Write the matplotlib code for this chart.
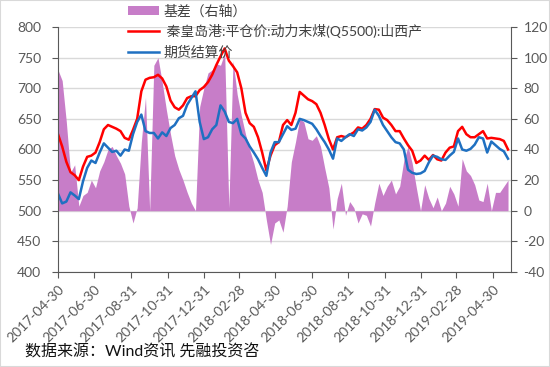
import pandas as pd
import matplotlib
matplotlib.use('Agg')
import matplotlib.pyplot as plt
from matplotlib.patches import Rectangle

plt.rcParams['font.family'] = ['Lato', 'Noto Sans CJK SC', 'DejaVu Sans']
plt.rcParams['axes.unicode_minus'] = False

# weekly samples
dates = pd.date_range('2017-04-30', periods=109, freq='W')

spot = [625, 605, 580, 563, 558, 550, 572, 588, 590, 595, 612, 633, 640, 637, 634, 630, 619, 616, 632,
        650, 695, 714, 717, 718, 722, 716, 703, 680, 669, 665, 672, 684, 687, 687, 697, 702, 710, 722,
        738, 752, 765, 745, 736, 726, 700, 660, 643, 637, 620, 595, 566, 590, 607, 612, 640,
        648, 640, 660, 694, 688, 682, 679, 674, 660, 640, 617, 600, 620, 622, 620, 624, 628, 636, 634,
        640, 650, 666, 665, 652, 648, 640, 630, 630, 618, 607, 598, 578, 582, 590, 583, 591,
        584, 582, 595, 603, 605, 630, 637, 625, 620, 620, 625, 630, 618, 619, 618, 617, 614, 600]

futures = [528, 512, 515, 530, 525, 519, 548, 570, 582, 578, 595, 610, 603, 596, 598, 590, 600, 598, 625,
           645, 657, 630, 627, 627, 618, 628, 622, 635, 640, 651, 655, 673, 684, 695, 645, 617, 620, 633,
           640, 672, 662, 645, 643, 650, 625, 618, 605, 595, 584, 570, 557, 595, 612, 612, 625,
           638, 632, 634, 650, 648, 645, 642, 633, 622, 612, 600, 585, 618, 614, 620, 625, 622, 633, 631,
           636, 645, 665, 655, 640, 630, 620, 612, 610, 600, 567, 562, 560, 561, 565, 579, 590,
           588, 584, 583, 590, 596, 618, 600, 598, 601, 608, 620, 618, 595, 613, 607, 601, 597, 585]

basis = [92, 85, 58, 25, 30, 3, 10, 12, 20, 15, 26, 32, 40, 42, 36, 31, 24, 3, -8, 2,
         45, 74, 0, 95, 100, 84, 66, 50, 36, 27, 20, 12, 5, 0, 68, 80, 90, 92, 96, 95, 103, 2,
         98, 76, 62, 50, 40, 31, 20, 12, -6, -22, -8, -6, -14,
         3, 32, 45, 60, 58, 47, 46, 49, 42, 28, 15, -12, 8, 18, -3, 6, 2, -8, -2,
         -3, -10, 5, 18, 10, 16, 20, 11, 16, 33, 42, 31, 15, 0, 17, 8, 2,
         9, 0, 5, 16, 11, 3, 34, 26, 23, 17, 7, 6, 18, 0, 12, 12, 16, 20]

tick_labels = ['2017-04-30', '2017-06-30', '2017-08-31', '2017-10-31', '2017-12-31',
               '2018-02-28', '2018-04-30', '2018-06-30', '2018-08-31', '2018-10-31',
               '2018-12-31', '2019-02-28', '2019-04-30']

grey = '#595959'

fig = plt.figure(figsize=(5.5, 3.67), dpi=100)
ax = fig.add_axes([58 / 550, 1 - 272 / 367, 453 / 550, 245 / 367])
ax2 = ax.twinx()
ax.set_zorder(ax2.get_zorder() + 1)
ax.patch.set_visible(False)

# basis on the right axis, behind the lines
fill = ax2.fill_between(dates, 0, basis, color='#C77DC8', linewidth=0, label='基差（右轴）')
ax2.set_ylim(-40, 120)
ax2.set_yticks(range(-40, 121, 20))
ax2.grid(axis='y', color='#d9d9d9', linewidth=1)
ax2.set_axisbelow(True)

l1, = ax.plot(dates, spot, color='#FF0000', lw=1.8, label=' 秦皇岛港:平仓价:动力末煤(Q5500):山西产')
l2, = ax.plot(dates, futures, color='#1F70C1', lw=1.8, label='期货结算价')
ax.set_ylim(400, 800)
ax.set_yticks(range(400, 801, 50))
ax.set_xlim(pd.Timestamp('2017-04-30'), pd.Timestamp('2019-05-31'))
ax.set_xticks(pd.to_datetime(tick_labels))
ax.set_xticklabels(tick_labels, rotation=45, ha='right', rotation_mode='anchor')

for s in ['top', 'right']:
    ax.spines[s].set_visible(False)
for s in ['top', 'left', 'bottom']:
    ax2.spines[s].set_visible(False)
for s in ['left', 'bottom']:
    ax.spines[s].set_color(grey)
ax2.spines['right'].set_color(grey)

ax.tick_params(axis='both', colors=grey, labelcolor=grey, labelsize=10, length=4, direction='out')
ax.tick_params(axis='y', pad=8)
ax.tick_params(axis='x', pad=4)
ax2.tick_params(axis='y', colors=grey, labelcolor=grey, labelsize=10, length=4, direction='out', pad=5)

ax.legend([fill, l1, l2], [fill.get_label(), l1.get_label(), l2.get_label()],
          loc='upper left', bbox_to_anchor=(128 / 550, 1 - 4 / 367), bbox_transform=fig.transFigure,
          frameon=False, fontsize=10, labelcolor='#404040', handlelength=2.2,
          handletextpad=0.35, labelspacing=0.5, borderaxespad=0, borderpad=0)

fig.text(25 / 550, 1 - 352 / 367, '数据来源：Wind资讯 先融投资咨', fontsize=11.5, va='center', color='#111111')

fig.patches.append(Rectangle((0, 0), 1, 1, transform=fig.transFigure, fill=False,
                             edgecolor='#d9d9d9', linewidth=1.5))

fig.savefig('out.png', dpi=100)
